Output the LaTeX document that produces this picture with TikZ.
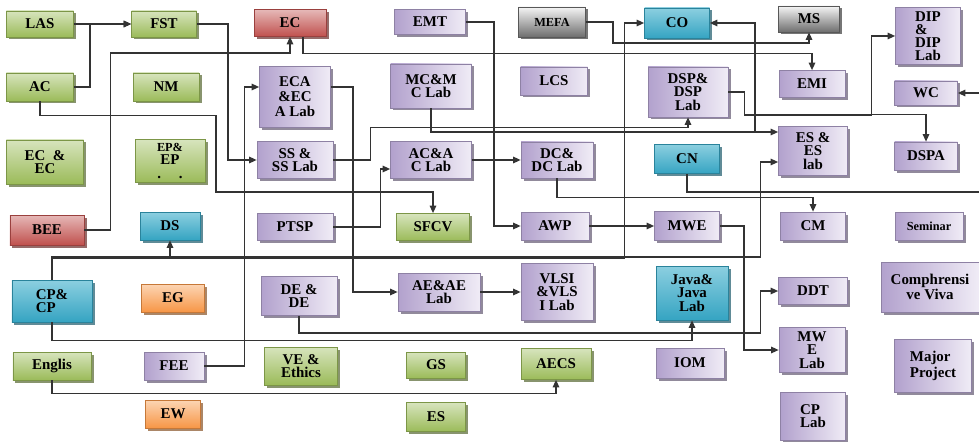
\documentclass[tikz,border=0pt]{standalone}
\usepackage{fontspec}
\setmainfont{Liberation Serif}
\usetikzlibrary{arrows.meta,positioning,calc,shadows}
\definecolor{cGrn}{HTML}{9BBB59}
\definecolor{cGrnL}{HTML}{D7E4BD}
\definecolor{cRed}{HTML}{C0504D}
\definecolor{cRedL}{HTML}{E6B9B8}
\definecolor{cBlu}{HTML}{35A4C2}
\definecolor{cBluL}{HTML}{8CCFE0}
\definecolor{cOrg}{HTML}{F79646}
\definecolor{cOrgL}{HTML}{FCD5B4}
\definecolor{cPur}{HTML}{B2A1CD}
\definecolor{cPurL}{HTML}{F0ECF6}
\definecolor{cGry}{HTML}{6E6E6E}
\definecolor{cInk}{HTML}{333333}
\tikzset{
  subj/.style={draw=#1!80!black, line width=0.4pt, align=center, inner sep=1pt,
    drop shadow={shadow xshift=0.5mm, shadow yshift=-0.5mm, fill=#1!55!black, opacity=0.7}},
  grn/.style={subj=cGrn, top color=cGrnL, bottom color=cGrn},
  red/.style={subj=cRed, top color=cRedL, bottom color=cRed},
  blu/.style={subj=cBlu, top color=cBluL, bottom color=cBlu},
  org/.style={subj=cOrg, top color=cOrgL, bottom color=cOrg},
  pur/.style={subj=cPur, left color=cPur, right color=cPurL},
  gry/.style={subj=cGry, top color=gray!8, bottom color=cGry},
  flow/.style={-{Triangle[length=1.5mm,width=1.3mm]}, line width=0.75pt, draw=cInk},
  link/.style={line width=0.75pt, draw=cInk},
}
\begin{document}
\begin{tikzpicture}[x=0.2mm, y=-0.2mm, font=\fontsize{8.5}{7.5}\selectfont\bfseries]
\useasboundingbox (0,0) rectangle (979,441);
% column 1
\node[grn, minimum width=13.4mm, minimum height=5.2mm] (las) at (40,24) {LAS};
\node[grn, minimum width=13.4mm, minimum height=5.6mm] (ac) at (40,87) {AC};
\node[grn, minimum width=15.4mm, minimum height=8.8mm] (ecec) at (45,162) {EC\ \ \&\\EC};
\node[red, minimum width=14.8mm, minimum height=6mm] (bee) at (47,230) {BEE};
\node[blu, minimum width=16mm, minimum height=8.4mm, align=left] (cpcp) at (52,301) {CP\&\\CP};
\node[grn, minimum width=15.6mm, minimum height=5.6mm] (englis) at (52,366) {Englis};
% column 2
\node[grn, minimum width=13mm, minimum height=5.2mm] (fst) at (164,24) {FST};
\node[grn, minimum width=13.2mm, minimum height=5.6mm] (nm) at (166,87) {NM};
\node[grn, minimum width=14mm, minimum height=8.6mm] (epep) at (170,161) {{\fontsize{7}{7}\selectfont EP\&}\\EP\\.\hspace{1.2em}.};
\node[blu, minimum width=12mm, minimum height=5.6mm] (ds) at (170,226) {DS};
\node[org, minimum width=12.6mm, minimum height=5.6mm] (eg) at (173,298) {EG};
\node[pur, minimum width=12mm, minimum height=5.6mm] (fee) at (174,366) {FEE};
\node[org, minimum width=11mm, minimum height=5.6mm] (ew) at (173,414) {EW};
% column 3
\node[red, minimum width=14.4mm, minimum height=5.4mm] (ec) at (290,23) {EC};
\node[pur, minimum width=14.2mm, minimum height=12.2mm, font=\fontsize{8.5}{8.5}\selectfont\bfseries] (eca) at (295,97) {ECA\\\&EC\\A Lab};
\node[pur, minimum width=15.2mm, minimum height=7.4mm] (ss) at (295,160) {SS \&\\SS Lab};
\node[pur, minimum width=15.2mm, minimum height=5.4mm] (ptsp) at (295,227) {PTSP};
\node[pur, minimum width=15.2mm, minimum height=7.8mm] (dede) at (299,296) {DE \&\\DE};
\node[grn, minimum width=14.6mm, minimum height=7.6mm] (ve) at (301,366) {VE \&\\Ethics};
% column 4
\node[pur, minimum width=14.2mm, minimum height=5mm] (emt) at (430,22) {EMT};
\node[pur, minimum width=16.2mm, minimum height=8.8mm] (mcm) at (431,86) {MC\&M\\C Lab};
\node[pur, minimum width=16.2mm, minimum height=7.4mm] (aca) at (431,160) {AC\&A\\C Lab};
\node[grn, minimum width=14.6mm, minimum height=5.4mm] (sfcv) at (433,227) {SFCV};
\node[pur, minimum width=16.4mm, minimum height=7.6mm] (aeae) at (439,292) {AE\&AE\\Lab};
\node[grn, minimum width=11.8mm, minimum height=5.2mm] (gs) at (436,365) {GS};
\node[grn, minimum width=11.8mm, minimum height=5.8mm] (es) at (436,417) {ES};
% column 5
\node[gry, minimum width=13.4mm, minimum height=6mm, font=\fontsize{7}{7}\selectfont\bfseries] (mefa) at (552,22) {MEFA};
\node[pur, minimum width=13.4mm, minimum height=5.6mm] (lcs) at (554,81) {LCS};
\node[pur, minimum width=14.4mm, minimum height=7.2mm] (dcdc) at (557,160) {DC\&\\DC Lab};
\node[pur, minimum width=13.6mm, minimum height=5.6mm] (awp) at (555,226) {AWP};
\node[pur, minimum width=14.4mm, minimum height=11.4mm] (vlsi) at (557,292) {VLSI\\\&VLS\\I Lab};
\node[grn, minimum width=14mm, minimum height=6.2mm] (aecs) at (556,364) {AECS};
% column 6
\node[blu, minimum width=13mm, minimum height=6mm] (co) at (677,23) {CO};
\node[pur, minimum width=16mm, minimum height=10mm] (dsp) at (688,92) {DSP\&\\DSP\\Lab};
\node[blu, minimum width=13mm, minimum height=5.8mm] (cn) at (687,159) {CN};
\node[pur, minimum width=13mm, minimum height=5.8mm] (mwe) at (687,226) {MWE};
\node[blu, minimum width=14.4mm, minimum height=10.8mm] (java) at (692,293) {Java\&\\Java\\Lab};
\node[pur, minimum width=13.6mm, minimum height=6mm] (iom) at (690,363) {IOM};
% column 7
\node[gry, minimum width=12.2mm, minimum height=5.2mm] (ms) at (809,19) {MS};
\node[pur, minimum width=13.2mm, minimum height=5.4mm] (emi) at (812,84) {EMI};
\node[pur, minimum width=13.8mm, minimum height=9.8mm] (esl) at (813,151) {ES \&\\ES\\lab};
\node[pur, minimum width=13mm, minimum height=5.6mm] (cm) at (813,226) {CM};
\node[pur, minimum width=13.8mm, minimum height=5.4mm] (ddt) at (813,291) {DDT};
\node[pur, minimum width=13.2mm, minimum height=9mm] (mwel) at (812,350) {MW\\E\\Lab};
\node[pur, minimum width=13mm, minimum height=9.6mm, align=left] (cpl) at (813,416) {CP\\Lab};
% column 8
\node[pur, minimum width=13mm, minimum height=11.4mm, align=left] (dip) at (928,36) {DIP\\\&\\DIP\\Lab};
\node[pur, minimum width=12.6mm, minimum height=4.8mm] (wc) at (926,93) {WC};
\node[pur, minimum width=12.6mm, minimum height=5.6mm] (dspa) at (926,156) {DSPA};
\node[pur, minimum width=13.6mm, minimum height=5.6mm, font=\fontsize{7}{7}\selectfont\bfseries] (sem) at (929,226) {Seminar};
\node[pur, minimum width=19.6mm, minimum height=10mm] (viva) at (930,287) {Comphrensi\\ve Viva};
\node[pur, minimum width=15.4mm, minimum height=10.6mm, align=left] (major) at (933,366) {Major\\Project};
\coordinate (rcn) at (979,192);
\coordinate (rwc) at (979,93);
% connectors
\draw[flow] (las.east) -- (fst.west);
\draw[flow] (ac.east) -- ++(16,0) |- (fst.west);
\draw[flow] (fst.east) -- ++(31,0) |- (ss.west);
\draw[flow] (ac.south) -- ++(0,14) -- ++(176,0) |- ($(sfcv.north)+(0,-21)$) -- (sfcv.north);
\draw[flow] (bee.east) -- ++(26,0) -- ++(0,-177) -| (ec.south);
\draw[flow] ($(ec.south)+(13,0)$) -- ++(0,16.5) -| (emi.north);
\draw[flow] (mefa.east) -- ++(27,0) -- ++(0,21) -| (ms.south);
\draw[flow] (emt.east) -- ++(28,0) |- (awp.west);
\draw[flow] (awp.east) -- (mwe.west);
\draw[flow] (mwe.east) -- ++(24,0) |- (mwel.west);
\draw[flow] (fee.east) -- ++(40,0) |- ([yshift=2mm]eca.west);
\draw[flow] ([yshift=2mm]eca.east) -- ++(22,0) |- (aeae.west);
\draw[flow] (aeae.east) -- (vlsi.west);
\draw[flow] (ptsp.east) -- ++(47,0) |- ([yshift=-1.8mm]aca.west);
\draw[flow] (aca.east) -- (dcdc.west);
\draw[flow] (ss.east) -- ++(37,0) |- ($(dsp.south)+(0,10)$) -- (dsp.south);
\draw[flow] (mcm.south) |- ([yshift=3.8mm]esl.west);
\draw[flow] (mcm.south) |- ($(co.east)+(45,109)$) |- (co.east);
\draw[flow] (cpcp.north) -- ++(0,-22) -| (ds.south);
\draw[flow] (cpcp.north) |- ($(co.west)+(-20,235)$) |- (co.west);
\draw[flow] (cpcp.north) |- ($(esl.west)+(-18,106)$) |- ([yshift=-2.2mm]esl.west);
\draw[flow] (cpcp.south) -- ++(0,18) -| (java.south);
\draw[flow] (dede.south) -- ++(0,17) -| ($(ddt.west)+(-18,0)$) -- (ddt.west);
\draw[flow] (englis.south) -- ++(0,13) -| (aecs.south);
\draw[flow] (dsp.east) -- ++(16,0) |- ($(dip.west)+(-24,79)$) |- (dip.west);
\draw[flow] (dsp.east) -- ++(16,0) |- ($(dspa.north)+(0,-27)$) -- (dspa.north);
\draw[flow] (dcdc.south) -- ++(0,19) -| (cm.north);
\draw[link] (cn.south) |- (rcn);
\draw[flow] (rwc) -- (wc.east);
\end{tikzpicture}
\end{document}
